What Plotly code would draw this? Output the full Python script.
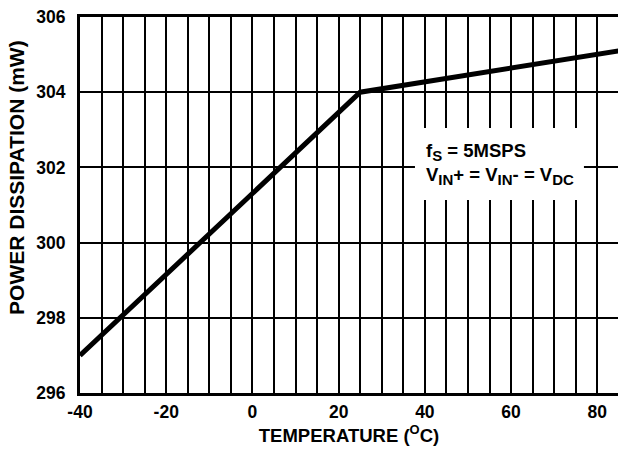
import plotly.graph_objects as go

temperature = [-40, 25, 85]
power_mw = [297.0, 304.0, 305.1]

x_ticks = [-40, -20, 0, 20, 40, 60, 80]
x_tick_labels = ["-40", "-20", "0", "20", "40", "60", "80"]
y_ticks = [296, 298, 300, 302, 304, 306]

SUB = '<sub><span style="font-size:15px">{}</span></sub>'
note_text = ("f" + SUB.format("S") + " = 5MSPS<br>"
             "V" + SUB.format("IN") + "+ = V" + SUB.format("IN") + "- = V" + SUB.format("DC"))
note_box = dict(x0=37.7, x1=76.9, y0=301.13, y1=303.05)

FONT = "Liberation Sans, Arial, sans-serif"

fig = go.Figure()
fig.add_trace(go.Scatter(x=temperature, y=power_mw, mode="lines",
                         line=dict(color="black", width=5), showlegend=False,
                         hoverinfo="skip"))

fig.add_shape(type="rect", xref="x", yref="y", layer="above",
              fillcolor="white", line=dict(width=0), **note_box)
fig.add_annotation(x=note_box["x0"], y=(note_box["y0"] + note_box["y1"]) / 2,
                   xref="x", yref="y", text=note_text, showarrow=False,
                   xanchor="left", yanchor="middle", align="left", xshift=9,
                   font=dict(family=FONT, size=18.5, color="black", weight="bold"))

tick_font = dict(family=FONT, size=17.5, color="black", weight="bold")
xtitle_font = dict(family=FONT, size=18.5, color="black", weight="bold")
ytitle_font = dict(family=FONT, size=21, color="black", weight="bold")

fig.update_xaxes(range=[-40, 84.8], tickvals=x_ticks, ticktext=x_tick_labels,
                 showgrid=False, zeroline=False, ticks="",
                 showline=True, linecolor="black", linewidth=3, mirror=True,
                 minor=dict(dtick=5, tick0=-40, showgrid=True, gridcolor="black", gridwidth=2),
                 tickfont=tick_font, ticklabelstandoff=1,
                 title=dict(text="TEMPERATURE (<sup>O</sup>C)", standoff=4, font=xtitle_font))
fig.update_yaxes(range=[296, 306], tickvals=y_ticks, showgrid=True,
                 gridcolor="black", gridwidth=2, zeroline=False, ticks="",
                 showline=True, linecolor="black", linewidth=3, mirror=False,
                 tickfont=tick_font, ticklabelstandoff=8)

# y-axis title placed as a rotated annotation (sits above plot centre in the reference)
fig.add_annotation(text="POWER DISSIPATION (mW)", xref="paper", yref="paper",
                   x=0, y=0.572, xshift=-63, xanchor="center", yanchor="middle",
                   textangle=-90, showarrow=False, font=ytitle_font)

fig.update_layout(width=618, height=449, margin=dict(l=80, r=0, t=17, b=56),
                  paper_bgcolor="white", plot_bgcolor="white")

fig.write_html("out.html")
